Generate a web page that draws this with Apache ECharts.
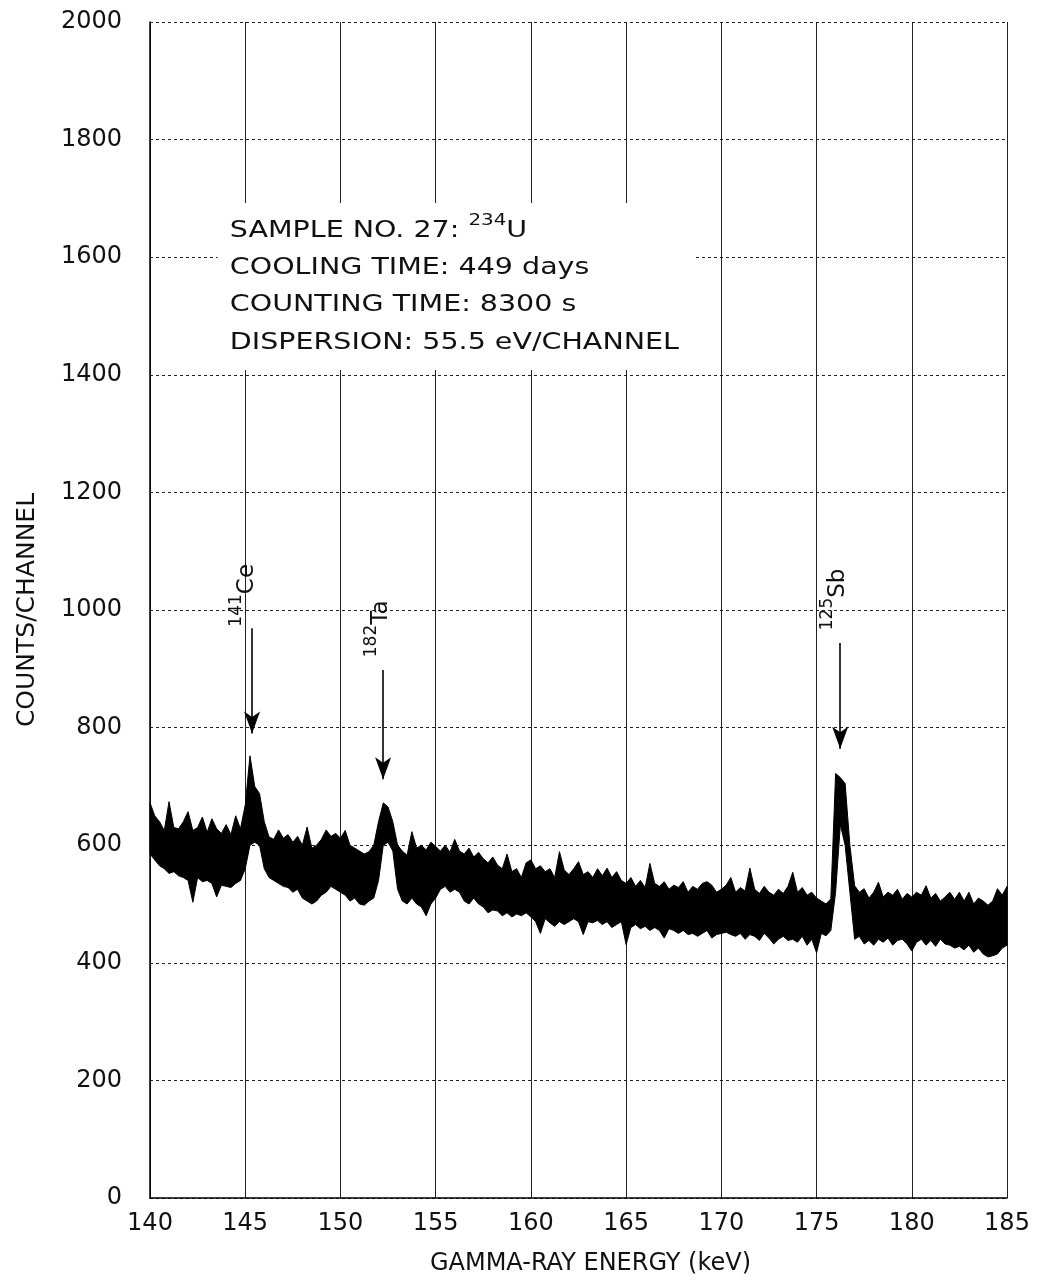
<!DOCTYPE html>
<html><head><meta charset="utf-8">
<script src="https://cdn.jsdelivr.net/npm/echarts@6/dist/echarts.min.js"></script>
<style>html,body{margin:0;padding:0;background:#fff}#c{width:1042px;height:1283px}</style>
</head><body><div id="c"></div>
<script>
// ---- tick labels ----
const xTickLabels = ['140','145','150','155','160','165','170','175','180','185'];
const yTickLabels = ['0','200','400','600','800','1000','1200','1400','1600','1800','2000'];

const binStartKeV = 140;
const binWidthKeV = 0.25;
const countsHigh = [
  672,650,640,625, 674,630,628,640, 657,625,630,648, 622,645,628,620, 635,618,650,628,
  668,752,700,688, 640,614,610,626, 612,618,605,615, 600,631,595,600, 610,626,615,620,
  612,625,600,595, 590,585,589,600, 640,672,665,640, 600,590,583,623, 595,600,592,605,
  598,590,600,588, 610,590,585,595, 580,588,577,570, 580,566,560,585, 555,560,545,570,
  575,560,565,555, 560,545,589,558, 550,560,572,550, 555,545,560,548, 561,545,555,540,
  535,545,530,540, 528,569,535,530, 538,525,532,528, 538,520,530,525, 535,538,532,520,
  525,532,545,520, 528,522,561,525, 518,530,520,515, 525,518,530,554, 520,528,515,520,
  510,505,500,509, 722,715,705,600, 531,520,526,510, 520,537,512,520, 515,525,508,518,
  512,520,515,531, 510,518,505,512, 520,508,520,505, 520,500,510,505, 498,505,526,515,
  530
];
const countsLow = [
  585,575,565,560, 552,555,548,545, 540,503,545,538, 540,535,512,532, 530,528,535,540,
  560,600,605,600, 560,545,540,535, 530,528,520,525, 510,505,500,505, 515,520,530,525,
  520,515,505,510, 500,498,505,510, 540,600,605,590, 525,505,500,510, 500,495,480,500,
  510,525,530,520, 525,520,505,500, 510,500,495,485, 490,488,480,485, 478,483,480,485,
  478,470,450,475, 468,462,470,465, 470,475,470,448, 470,468,472,465, 470,460,465,470,
  431,460,465,458, 462,455,460,455, 442,458,455,450, 455,448,450,445, 450,455,442,448,
  450,452,448,445, 450,440,448,445, 438,450,442,432, 440,445,438,440, 435,445,430,440,
  417,450,446,455, 520,635,600,520, 440,445,432,438, 430,440,435,442, 430,438,440,432,
  420,435,440,430, 438,428,440,432, 430,425,428,422, 430,418,425,415, 410,412,415,425,
  430
];

// ---- identified peaks ----
const peakNuclides = ['Ce','Ta','Sb'];
const peakMasses = ['141','182','125'];
const peakEnergies = [145.36, 152.24, 176.24];

// ---- info text ----
const infoLines = [
  '{t|SAMPLE NO. 27: }{sup|234}{t|U}',
  '{t|COOLING TIME: 449 days}',
  '{t|COUNTING TIME: 8300 s}',
  '{t|DISPERSION: 55.5 eV/CHANNEL}'
];

// ---- layout (data-space anchors for annotations) ----
const arrowLayout = [
  {from: 969, to: 790, labelE: 144.9, labelV: 1025},
  {from: 898, to: 712, labelE: 151.95, labelV: 968},
  {from: 944, to: 764, labelE: 175.92, labelV: 1018}
];
const infoBoxLayout = {e0: 143.55, e1: 168.6, v0: 1408, v1: 1692, textE: 144.19, lineV: [1650, 1588, 1524, 1460]};

const FONT = 'DejaVu Sans';
const bins = countsHigh.map((h, i) => [binStartKeV + i * binWidthKeV, h, countsLow[i]]);

const chart = echarts.init(document.getElementById('c'), null, {renderer: 'canvas'});
chart.setOption({
  animation: false,
  backgroundColor: '#fff',
  grid: {left: 150, right: 35, top: 22, bottom: 85, containLabel: false},
  xAxis: {
    type: 'value', min: 140, max: 185, interval: 5,
    axisLine: {show: true, onZero: false, lineStyle: {color: '#000', width: 1.5}},
    axisTick: {show: false},
    axisLabel: {fontSize: 24, fontFamily: FONT, color: '#111', margin: 14,
      formatter: v => xTickLabels[Math.round((v - 140) / 5)]},
    splitLine: {show: true, lineStyle: {color: '#222', width: 1}},
    name: 'GAMMA-RAY ENERGY (keV)', nameLocation: 'middle', nameGap: 54,
    nameTextStyle: {fontSize: 24, fontFamily: FONT, color: '#111', padding: [0, 0, 0, 24]}
  },
  yAxis: {
    type: 'value', min: 0, max: 2000, interval: 200,
    axisLine: {show: true, lineStyle: {color: '#000', width: 1.5}},
    axisTick: {show: false},
    axisLabel: {fontSize: 24, fontFamily: FONT, color: '#111', margin: 28,
      formatter: v => yTickLabels[Math.round(v / 200)]},
    splitLine: {show: true, lineStyle: {color: '#222', width: 1, type: [3, 3]}},
    name: 'COUNTS/CHANNEL', nameLocation: 'middle', nameGap: 110, nameRotate: 90,
    nameTextStyle: {fontSize: 25, fontFamily: FONT, color: '#111'}
  },
  series: [{
    type: 'custom', silent: true, data: bins,
    encode: {x: 0, y: [1, 2]},
    renderItem: (params, api) => {
      // one closed band polygon: top envelope forward, bottom envelope backward
      if (params.dataIndex !== 0) return null;
      const top = bins.map(b => api.coord([b[0], b[1]]));
      const bottom = bins.map(b => api.coord([b[0], b[2]])).reverse();
      return {
        type: 'polygon',
        shape: {points: top.concat(bottom)},
        style: {fill: '#000', stroke: '#000', lineWidth: 1, lineJoin: 'miter', miterLimit: 20}
      };
    },
    markLine: {
      silent: true, symbol: ['none', 'arrow'], symbolSize: [12, 22],
      lineStyle: {color: '#000', width: 1.6, type: 'solid'},
      label: {show: false},
      data: peakEnergies.map((e, i) => [{coord: [e, arrowLayout[i].from]}, {coord: [e, arrowLayout[i].to]}])
    }
  }]
});

const px = (e, v) => chart.convertToPixel({gridIndex: 0}, [e, v]);
const graphics = [];
const b0 = px(infoBoxLayout.e0, infoBoxLayout.v1), b1 = px(infoBoxLayout.e1, infoBoxLayout.v0);
graphics.push({type: 'rect', shape: {x: b0[0], y: b0[1], width: b1[0] - b0[0], height: b1[1] - b0[1]},
  style: {fill: '#fff'}, z: 100});
infoLines.forEach((t, i) => {
  const p = px(infoBoxLayout.textE, infoBoxLayout.lineV[i]);
  graphics.push({type: 'text', x: p[0], y: p[1], scaleX: 1.24, z: 101,
    style: {text: t, align: 'left', verticalAlign: 'middle', textAlign: 'left', textVerticalAlign: 'middle',
      rich: {t: {fontSize: 23, fontFamily: FONT, fill: '#111', color: '#111', lineHeight: 30, verticalAlign: 'bottom'},
             sup: {fontSize: 16, fontFamily: FONT, fill: '#111', color: '#111', lineHeight: 30, verticalAlign: 'top'}}}});
});
peakNuclides.forEach((n, i) => {
  const p = px(arrowLayout[i].labelE, arrowLayout[i].labelV);
  graphics.push({type: 'text', x: p[0], y: p[1], rotation: Math.PI / 2, z: 101,
    style: {text: '{sup|' + peakMasses[i] + '}{b|' + n + '}', align: 'center', verticalAlign: 'middle',
      textAlign: 'center', textVerticalAlign: 'middle',
      rich: {b: {fontSize: 23, fontFamily: FONT, fill: '#111', color: '#111', lineHeight: 30, verticalAlign: 'bottom'},
             sup: {fontSize: 17, fontFamily: FONT, fill: '#111', color: '#111', lineHeight: 30, verticalAlign: 'top'}}}});
});
chart.setOption({graphic: {elements: graphics}});
</script></body></html>
